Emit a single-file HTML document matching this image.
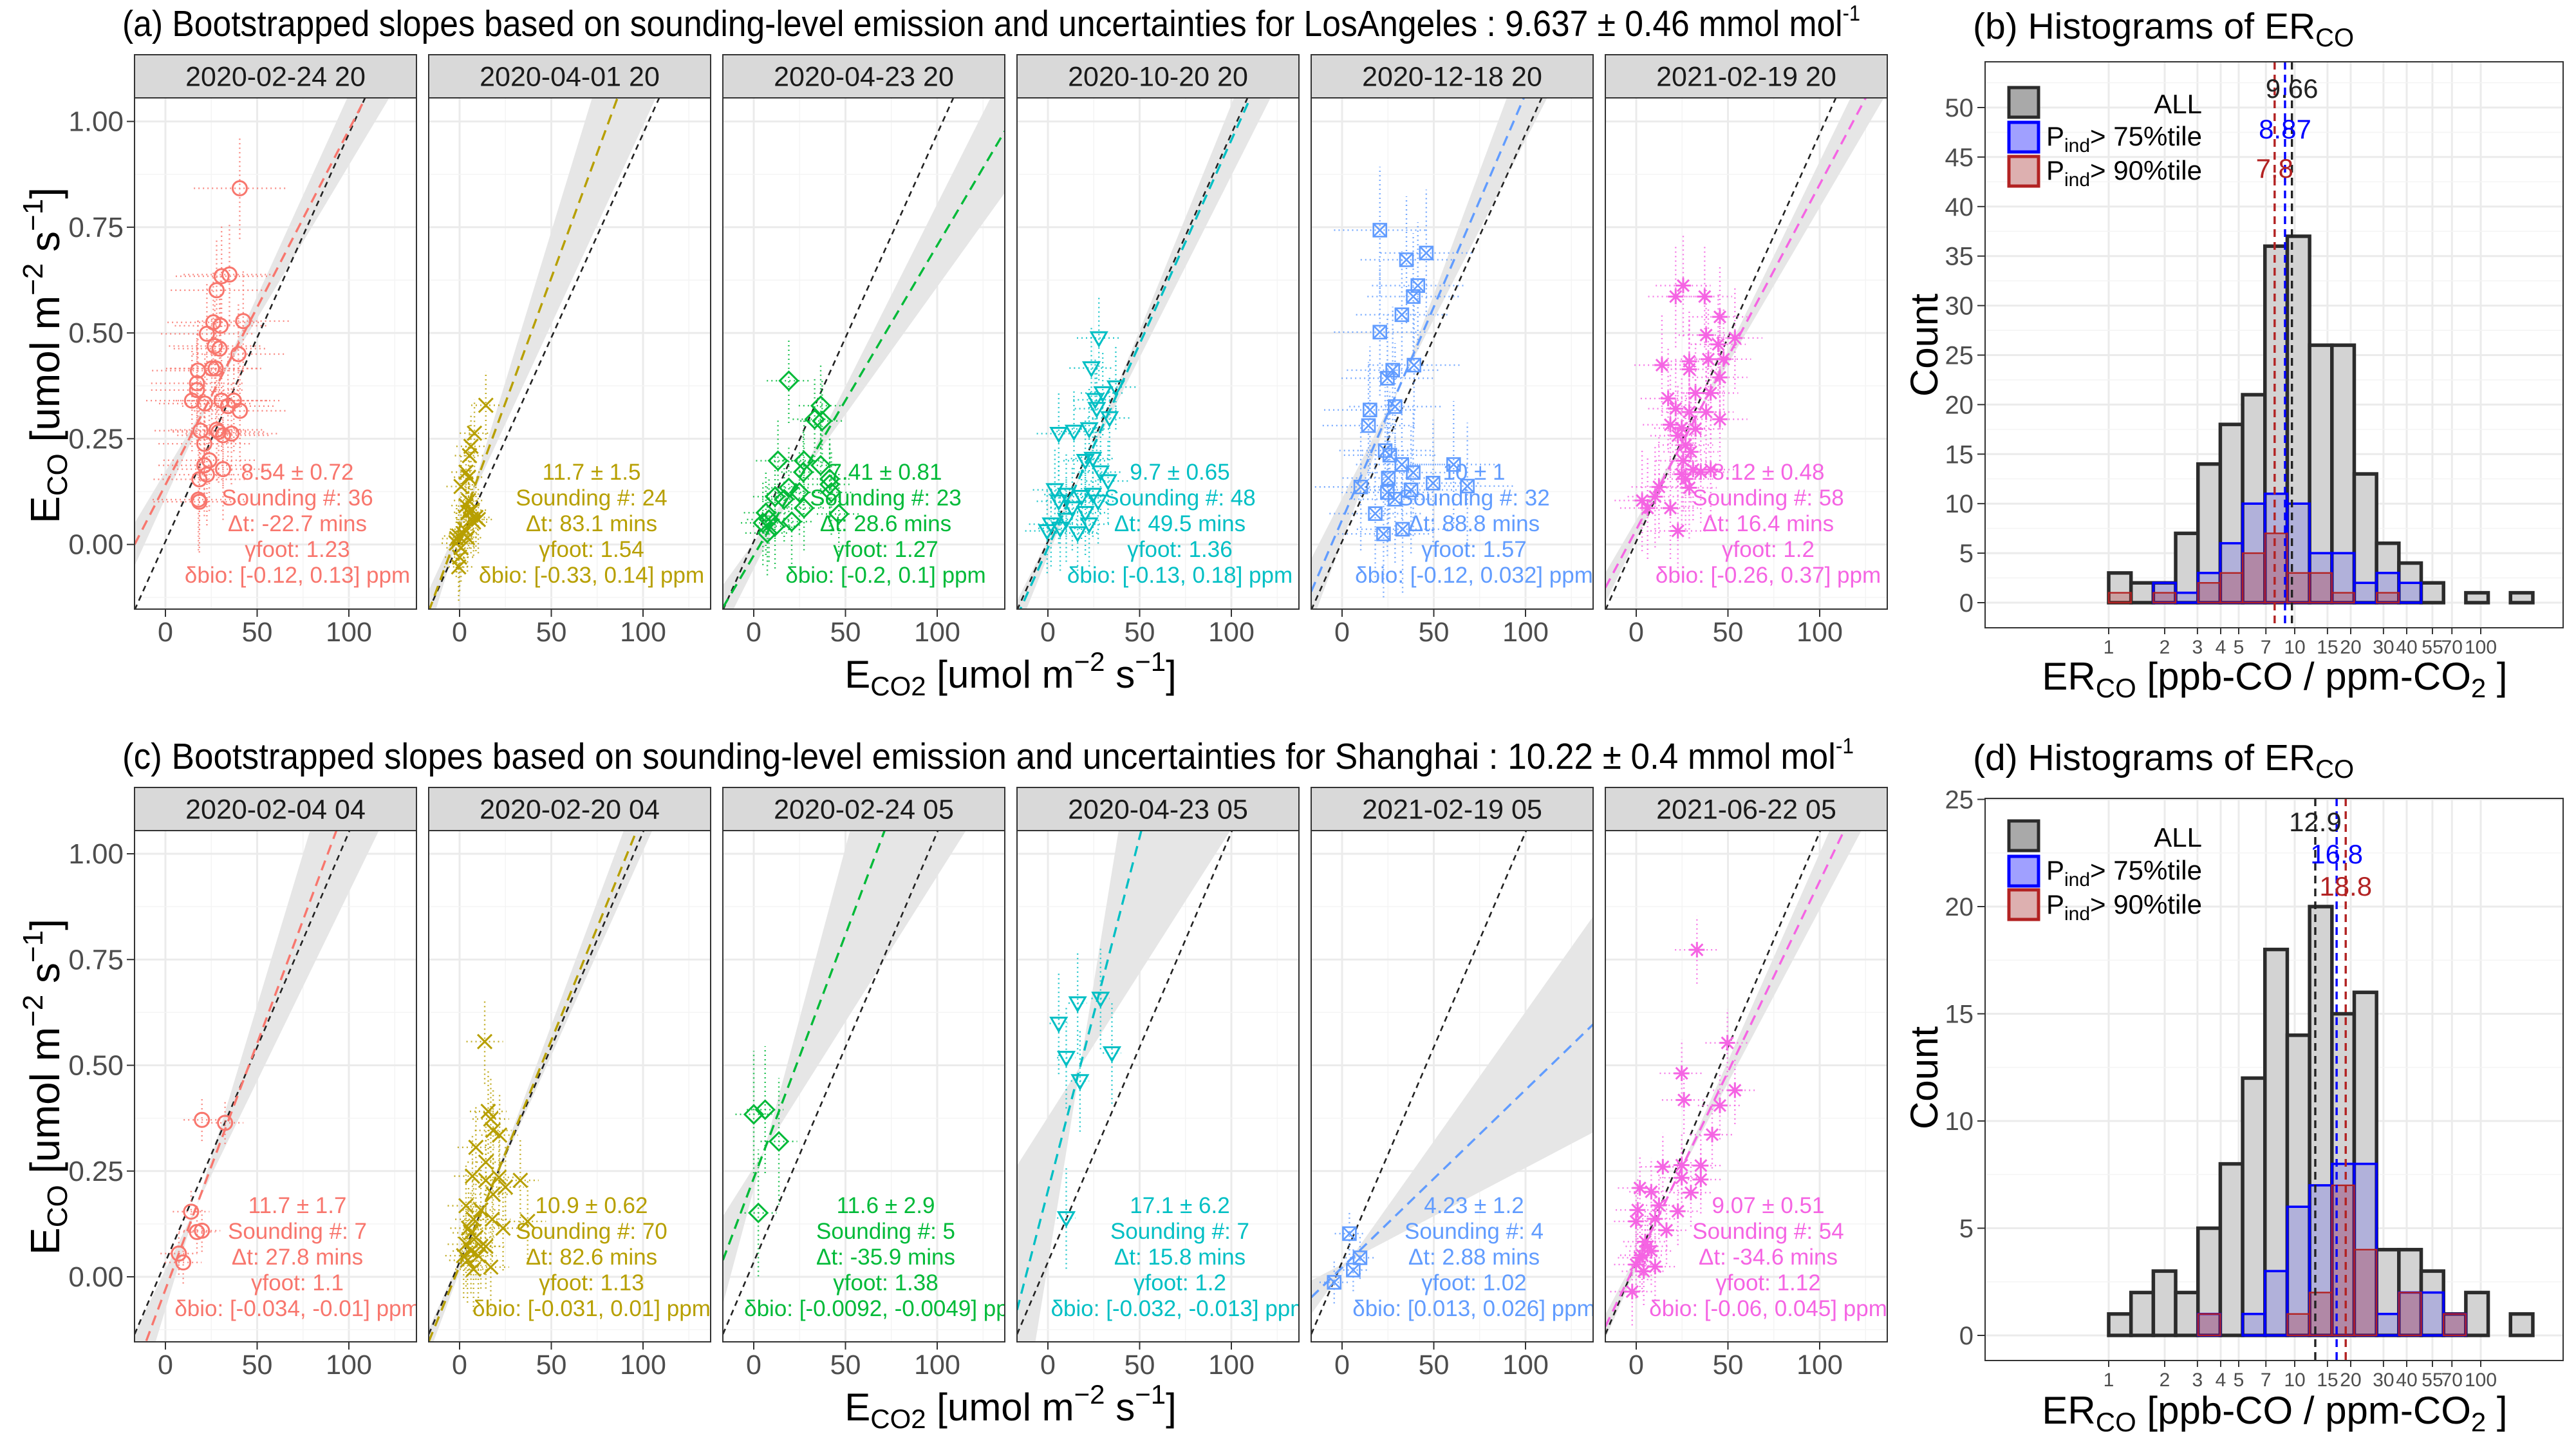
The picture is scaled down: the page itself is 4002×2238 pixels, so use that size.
<!DOCTYPE html>
<html><head><meta charset="utf-8"><title>Bootstrapped slopes</title>
<style>
html,body{margin:0;padding:0;background:#fff;overflow:hidden;width:4002px;height:2238px;}
svg{display:block;font-family:"Liberation Sans",Arial,sans-serif;}
</style></head>
<body>
<svg id="fig" width="4002" height="2238" viewBox="0 0 4002 2238" xmlns="http://www.w3.org/2000/svg">
<rect x="0" y="0" width="4002" height="2238" fill="#fff"/>
<text x="190" y="56" font-size="57" fill="#000" textLength="2700" lengthAdjust="spacingAndGlyphs">(a) Bootstrapped slopes based on sounding-level emission and uncertainties for LosAngeles : 9.637 ± 0.46 mmol mol<tspan font-size="34" dy="-24">-1</tspan></text>
<text x="190" y="1194" font-size="57" fill="#000" textLength="2690" lengthAdjust="spacingAndGlyphs">(c) Bootstrapped slopes based on sounding-level emission and uncertainties for Shanghai : 10.22 ± 0.4 mmol mol<tspan font-size="34" dy="-24">-1</tspan></text>
<text x="3065" y="60" font-size="57" fill="#000">(b) Histograms of ER<tspan font-size="40" dy="12">CO</tspan></text>
<text x="3065" y="1196" font-size="57" fill="#000">(d) Histograms of ER<tspan font-size="40" dy="12">CO</tspan></text>
<g id="layer"></g>
</svg>
<script>
// ---------------- scatter data ----------------
const overallSlopeTop = 0.009637;
const overallInterceptTop = 0.007;
const overallSlopeBot = 0.01016;
const overallInterceptBot = 0.035;

const topDates = ["2020-02-24 20","2020-04-01 20","2020-04-23 20","2020-10-20 20","2020-12-18 20","2021-02-19 20"];
const botDates = ["2020-02-04 04","2020-02-20 04","2020-02-24 05","2020-04-23 05","2021-02-19 05","2021-06-22 05"];

const topSlope = [0.00839, 0.0118, 0.00733, 0.00964, 0.01007, 0.00816];
const topIntercept = [0.141, 0.04, -0.026, -0.008, 0.058, 0.035];
const topUnc = [0.72, 1.5, 0.81, 0.65, 1.0, 0.48];
const botSlope = [0.01164, 0.01066, 0.01152, 0.01673, 0.0042, 0.00901];
const botIntercept = [-0.03, 0.026, 0.233, 0.203, 0.022, 0.034];
const botUnc = [1.7, 0.62, 2.9, 6.2, 1.2, 0.51];

const topXErr = [25, 8, 12, 12, 25, 15];
const topYErr = [0.12, 0.08, 0.1, 0.1, 0.15, 0.12];
const botXErr = [10, 10, 10, 5, 8, 12];
const botYErr = [0.05, 0.1, 0.15, 0.12, 0.05, 0.08];

const topX = [
 [40.5,34.9,30.6,27.9,26.1,30.1,42.4,22.6,26.9,29.5,39.8,17.7,25.3,27.4,17.2,17.2,14.5,21.5,30.6,37.3,34.1,40.6,19.1,27.9,29.0,31.4,36.0,21.2,23.9,21.2,22.6,18.5,31.4,18.0,18.5],
 [14.3,8.1,6.2,5.4,3.5,4.9,0.8,4.9,7.0,8.9,6.2,2.2,-0.5,4.3,-1.8,0.8,0.0,-0.5,7.6,2.7,4.9,-1.6,10.2,3.5],
 [19.1,33.2,36.5,37.3,13.2,27.4,36.5,41.4,42.3,19.1,11.6,24.9,6.6,8.3,5.0,11.6,20.7,27.4,46.4,7.4,27.0,41.4,16.6],
 [27.8,23.7,37.0,29.9,25.8,26.6,33.6,5.9,14.2,22.5,20.4,24.5,28.7,32.8,3.8,10.0,18.3,24.5,5.9,13.3,20.4,1.7,6.7,16.2,22.5,-0.4,10.0,27.4],
 [20.6,45.9,35.1,41.3,38.8,32.6,20.6,39.2,27.6,24.7,28.9,15.2,14.4,23.5,26.0,32.6,60.8,38.8,25.2,49.6,68.3,10.2,24.7,37.6,28.9,18.1,33.0,22.6],
 [25.6,21.5,37.3,45.6,38.1,53.8,44.7,14.0,28.9,39.3,47.6,45.6,28.9,32.3,40.6,17.4,21.5,28.9,38.1,45.6,18.6,24.8,32.3,22.7,26.9,29.8,25.6,31.0,24.8,35.2,12.4,10.3,3.2,6.2,18.6,22.7,28.9,26.9,40.6]
];
const topY = [
 [0.842,0.638,0.634,0.601,0.525,0.517,0.528,0.498,0.469,0.463,0.450,0.411,0.416,0.416,0.381,0.365,0.340,0.333,0.340,0.340,0.327,0.316,0.269,0.271,0.266,0.258,0.262,0.238,0.199,0.187,0.165,0.154,0.178,0.106,0.101],
 [0.329,0.263,0.232,0.210,0.171,0.159,0.137,0.104,0.081,0.064,0.059,0.025,0.020,0.016,0.003,-0.008,-0.030,-0.053,0.053,0.036,0.076,0.014,0.059,0.092],
 [0.387,0.296,0.328,0.292,0.198,0.198,0.187,0.142,0.123,0.134,0.113,0.123,0.075,0.059,0.051,0.043,0.054,0.086,0.072,0.027,0.171,0.155,0.107],
 [0.488,0.417,0.372,0.358,0.342,0.321,0.299,0.262,0.267,0.273,0.198,0.203,0.171,0.150,0.129,0.118,0.113,0.118,0.102,0.086,0.075,0.048,0.038,0.027,0.048,0.032,0.059,0.102],
 [0.743,0.689,0.673,0.612,0.586,0.543,0.502,0.424,0.412,0.393,0.326,0.318,0.281,0.222,0.211,0.189,0.189,0.170,0.157,0.145,0.138,0.136,0.123,0.129,0.107,0.073,0.036,0.025],
 [0.612,0.586,0.586,0.538,0.495,0.488,0.473,0.424,0.433,0.438,0.438,0.395,0.414,0.358,0.358,0.345,0.321,0.313,0.313,0.296,0.283,0.275,0.273,0.257,0.235,0.219,0.198,0.177,0.166,0.171,0.136,0.113,0.104,0.086,0.086,0.032,0.134,0.155,0.177]
];
const botX = [
 [19.9,32.5,14.0,17.2,19.9,7.3,9.7],
 [13.7,15.6,17.0,8.9,14.3,21.8,18.3,7.0,14.3,21.5,25.0,33.1,18.3,37.1,23.7,17.8,7.6,4.9,8.9,3.5,6.2,11.6,4.3,7.6,17.0,2.2,10.2,14.3,6.2,11.6,3.5],
 [0.0,6.2,13.7,2.5],
 [5.9,16.2,28.7,10.0,34.9,17.5,10.0],
 [4.0,9.8,6.1,-4.3],
 [33.1,49.7,24.8,26.0,53.8,45.6,41.4,14.5,24.8,35.2,24.8,35.2,29.8,2.0,8.2,0.8,12.4,22.7,-0.1,10.3,16.5,4.9,8.2,2.0,-0.1,10.3,4.1,-2.2,6.2,3.2]
];
const botY = [
 [0.371,0.364,0.154,0.106,0.109,0.055,0.034],
 [0.556,0.391,0.373,0.306,0.271,0.335,0.346,0.238,0.228,0.235,0.212,0.228,0.195,0.131,0.115,0.136,0.136,0.115,0.093,0.077,0.061,0.072,0.039,0.018,0.023,0.050,0.050,0.072,0.104,0.158,0.168],
 [0.384,0.395,0.320,0.151],
 [0.599,0.647,0.658,0.518,0.529,0.463,0.139],
 [0.102,0.045,0.016,-0.013],
 [0.773,0.553,0.481,0.418,0.441,0.405,0.336,0.260,0.264,0.263,0.234,0.230,0.199,0.210,0.201,0.158,0.169,0.155,0.131,0.137,0.110,0.083,0.061,0.045,0.029,0.024,0.013,-0.035,0.072,0.051]
];

const topNotes = [
 ["8.54 ± 0.72","Sounding #: 36","Δt: -22.7 mins","γfoot: 1.23","δbio: [-0.12, 0.13] ppm"],
 ["11.7 ± 1.5","Sounding #: 24","Δt: 83.1 mins","γfoot: 1.54","δbio: [-0.33, 0.14] ppm"],
 ["7.41 ± 0.81","Sounding #: 23","Δt: 28.6 mins","γfoot: 1.27","δbio: [-0.2, 0.1] ppm"],
 ["9.7 ± 0.65","Sounding #: 48","Δt: 49.5 mins","γfoot: 1.36","δbio: [-0.13, 0.18] ppm"],
 ["10 ± 1","Sounding #: 32","Δt: 88.8 mins","γfoot: 1.57","δbio: [-0.12, 0.032] ppm"],
 ["8.12 ± 0.48","Sounding #: 58","Δt: 16.4 mins","γfoot: 1.2","δbio: [-0.26, 0.37] ppm"]
];
const botNotes = [
 ["11.7 ± 1.7","Sounding #: 7","Δt: 27.8 mins","γfoot: 1.1","δbio: [-0.034, -0.01] ppm"],
 ["10.9 ± 0.62","Sounding #: 70","Δt: 82.6 mins","γfoot: 1.13","δbio: [-0.031, 0.01] ppm"],
 ["11.6 ± 2.9","Sounding #: 5","Δt: -35.9 mins","γfoot: 1.38","δbio: [-0.0092, -0.0049] ppm"],
 ["17.1 ± 6.2","Sounding #: 7","Δt: 15.8 mins","γfoot: 1.2","δbio: [-0.032, -0.013] ppm"],
 ["4.23 ± 1.2","Sounding #: 4","Δt: 2.88 mins","γfoot: 1.02","δbio: [0.013, 0.026] ppm"],
 ["9.07 ± 0.51","Sounding #: 54","Δt: -34.6 mins","γfoot: 1.12","δbio: [-0.06, 0.045] ppm"]
];
const xTicks = [0, 50, 100];
const yTicks = [0, 0.25, 0.5, 0.75, 1.0];
const yTickLabels = ["0.00","0.25","0.50","0.75","1.00"];

// ---------------- histogram data ----------------
const histBinStart = -0.48;
const histBinWidth = 0.12;
const histBAll = [0,0,0,0,3,2,2,7,14,18,21,36,37,26,26,13,6,4,2,0,1,0,1];
const histBP75 = [0,0,0,0,0,0,2,1,3,6,10,11,10,5,5,2,3,2,0,0,0,0,0];
const histBP90 = [0,0,0,0,1,0,1,0,2,3,5,7,3,3,1,0,1,0,0,0,0,0,0];
const histDAll = [0,0,0,0,1,2,3,2,5,8,12,18,14,20,15,16,4,4,3,1,2,0,1];
const histDP75 = [0,0,0,0,0,0,0,0,1,0,1,3,6,7,8,8,1,2,2,1,0,0,0];
const histDP90 = [0,0,0,0,0,0,0,0,1,0,0,0,1,2,7,4,0,2,0,1,0,0,0];
const histBMedians = [9.66, 8.87, 7.8];
const histDMedians = [12.9, 16.8, 18.8];
const histXTicks = [1,2,3,4,5,7,10,15,20,30,40,55,70,100];
const histXTickLabels = ["1","2","3","4","5","7","10","15","20","30","40","55","70","100"];
const histBYTicks = [0,5,10,15,20,25,30,35,40,45,50];
const histDYTicks = [0,5,10,15,20,25];

// ---------------- rendering ----------------
const NS = "http://www.w3.org/2000/svg";
const layer = document.getElementById("layer");
const svgRoot = document.getElementById("fig");
const defs = document.createElementNS(NS, "defs");
svgRoot.insertBefore(defs, svgRoot.firstChild);
const colors = ["#F8766D","#B79F00","#00BA38","#00BFC4","#619CFF","#F564E3"];
const shapes = ["circle","cross","diamond","tri","sqx","star"];

function mk(tag, attrs, parent) {
  const e = document.createElementNS(NS, tag);
  for (const k in attrs) e.setAttribute(k, attrs[k]);
  (parent || layer).appendChild(e);
  return e;
}

const rows = [
  {stripTop: 85, top: 152, bottom: 946, y0: 845.6, dates: topDates, slope: topSlope, icpt: topIntercept, unc: topUnc,
   X: topX, Y: topY, xe: topXErr, ye: topYErr, notes: topNotes, noteY: 733, oS: overallSlopeTop, oI: overallInterceptTop, name: "top"},
  {stripTop: 1223, top: 1290, bottom: 2084, y0: 1983, dates: botDates, slope: botSlope, icpt: botIntercept, unc: botUnc,
   X: botX, Y: botY, xe: botXErr, ye: botYErr, notes: botNotes, noteY: 1872, oS: overallSlopeBot, oI: overallInterceptBot, name: "bottom"}
];
const PXU = 2.85, PYU = 657, PW = 438;
const XMIN = -16.8, XMAX = 136.8;

function drawMarker(g, shape, cx, cy, col) {
  const s = 11;
  let m;
  if (shape === "circle") {
    m = mk("circle", {cx: cx, cy: cy, r: s, fill: "none", stroke: col, "stroke-width": 3}, g);
  } else if (shape === "cross") {
    m = mk("path", {d: `M${cx-s} ${cy-s}L${cx+s} ${cy+s}M${cx-s} ${cy+s}L${cx+s} ${cy-s}`, stroke: col, "stroke-width": 3, fill: "none"}, g);
  } else if (shape === "diamond") {
    m = mk("path", {d: `M${cx} ${cy-14}L${cx+14} ${cy}L${cx} ${cy+14}L${cx-14} ${cy}Z`, stroke: col, "stroke-width": 3, fill: "none"}, g);
  } else if (shape === "tri") {
    m = mk("path", {d: `M${cx-12} ${cy-9}L${cx+12} ${cy-9}L${cx} ${cy+12}Z`, stroke: col, "stroke-width": 3, fill: "none"}, g);
  } else if (shape === "sqx") {
    m = mk("path", {d: `M${cx-10} ${cy-10}h20v20h-20ZM${cx-10} ${cy-10}L${cx+10} ${cy+10}M${cx-10} ${cy+10}L${cx+10} ${cy-10}`, stroke: col, "stroke-width": 2.6, fill: "none"}, g);
  } else {
    m = mk("path", {d: `M${cx-12} ${cy}h24M${cx} ${cy-12}v24M${cx-9} ${cy-9}L${cx+9} ${cy+9}M${cx-9} ${cy+9}L${cx+9} ${cy-9}`, stroke: col, "stroke-width": 3, fill: "none"}, g);
  }
  return m;
}

rows.forEach((row, ri) => {
  for (let k = 0; k < 6; k++) {
    const left = 209 + 457 * k;
    const x0 = 257 + 457 * k;
    const sx = v => x0 + v * PXU;
    const sy = v => row.y0 - v * PYU;
    const col = colors[k];
    const pg = mk("g", {});
    
    
    const cid = `clip-${ri}-${k}`;
    const cp = mk("clipPath", {id: cid}, defs);
    mk("rect", {x: left, y: row.top, width: PW, height: row.bottom - row.top}, cp);

    const strip = mk("rect", {x: left, y: row.stripTop, width: PW, height: row.top - row.stripTop, fill: "#D9D9D9", stroke: "#333", "stroke-width": 2}, pg);
    
    
    const st = mk("text", {x: left + PW/2, y: (row.stripTop + row.top)/2 + 15, "font-size": 43, "text-anchor": "middle", fill: "#1A1A1A"}, pg);
    st.textContent = row.dates[k];
    
    

    const inner = mk("g", {"clip-path": `url(#${cid})`}, pg);
    for (let v = -25; v <= 150; v += 25) {
      const major = v % 50 === 0;
      mk("line", {x1: sx(v), x2: sx(v), y1: row.top, y2: row.bottom, stroke: major ? "#EBEBEB" : "#F4F4F4", "stroke-width": major ? 3 : 1.5}, inner);
    }
    for (let v = -0.25; v <= 1.25; v += 0.125) {
      const major = Math.abs(v / 0.25 - Math.round(v / 0.25)) < 1e-6;
      mk("line", {x1: left, x2: left + PW, y1: sy(v), y2: sy(v), stroke: major ? "#EBEBEB" : "#F4F4F4", "stroke-width": major ? 3 : 1.5}, inner);
    }
    // bootstrap fan, pivot on fit line at mean x
    const X = row.X[k], Y = row.Y[k];
    let mx = 0;
    X.forEach(v => mx += v);
    mx /= X.length;
    const my = row.icpt[k] + row.slope[k] * mx;
    const sp = 1.6 * row.unc[k] / 1000;
    const s1 = row.slope[k] - sp, s2 = row.slope[k] + sp;
    const f = (s, x) => my + s * (x - mx);
    const fan = mk("path", {d: `M${sx(XMIN)} ${sy(f(s1,XMIN))}L${sx(XMAX)} ${sy(f(s1,XMAX))}L${sx(XMAX)} ${sy(f(s2,XMAX))}L${sx(XMIN)} ${sy(f(s2,XMIN))}Z`, fill: "#E6E6E6", "fill-rule": "nonzero"}, inner);
    
    
    const ol = mk("line", {x1: sx(XMIN), y1: sy(row.oI + row.oS*XMIN), x2: sx(XMAX), y2: sy(row.oI + row.oS*XMAX), stroke: "#222", "stroke-width": 2.6, "stroke-dasharray": "9 7"}, inner);
    
    
    const fl = mk("line", {x1: sx(XMIN), y1: sy(row.icpt[k] + row.slope[k]*XMIN), x2: sx(XMAX), y2: sy(row.icpt[k] + row.slope[k]*XMAX), stroke: col, "stroke-width": 3.4, "stroke-dasharray": "16 10"}, inner);
    
    
    const xe = row.xe[k], ye = row.ye[k];
    for (let i = 0; i < X.length; i++) {
      const eb = mk("path", {d: `M${sx(X[i]-xe)} ${sy(Y[i])}H${sx(X[i]+xe)}M${sx(X[i])} ${sy(Y[i]-ye)}V${sy(Y[i]+ye)}`, stroke: col, "stroke-width": 2.4, "stroke-dasharray": "2 5", fill: "none", opacity: 0.85}, inner);
      
      
    }
    for (let i = 0; i < X.length; i++) {
      const m = drawMarker(inner, shapes[k], sx(X[i]), sy(Y[i]), col);
      
      
    }
    row.notes[k].forEach((t, j) => {
      const tx = mk("text", {x: left + 253, y: row.noteY + j * 40 + 12, "font-size": 35, "text-anchor": "middle", fill: col}, inner);
      tx.textContent = t;
      
      
    });
    const bd = mk("rect", {x: left, y: row.top, width: PW, height: row.bottom - row.top, fill: "none", stroke: "#333", "stroke-width": 2}, pg);
    
    
    xTicks.forEach(v => {
      mk("line", {x1: sx(v), x2: sx(v), y1: row.bottom, y2: row.bottom + 12, stroke: "#333", "stroke-width": 2}, pg);
      const tl = mk("text", {x: sx(v), y: row.bottom + 50, "font-size": 43, "text-anchor": "middle", fill: "#4D4D4D"}, pg);
      tl.textContent = String(v);
      
      
    });
    if (k === 0) {
      yTicks.forEach((v, j) => {
        mk("line", {x1: left - 12, x2: left, y1: sy(v), y2: sy(v), stroke: "#333", "stroke-width": 2}, pg);
        const tl = mk("text", {x: left - 17, y: sy(v) + 15, "font-size": 44, "text-anchor": "end", fill: "#4D4D4D"}, pg);
        tl.textContent = yTickLabels[j];
        
        
      });
    }
  }
  const yc = ri === 0 ? 552 : 1688;
  const yt = mk("text", {x: 0, y: 0, "font-size": 64, "text-anchor": "middle", fill: "#000", transform: `translate(92 ${yc}) rotate(-90)`});
  yt.innerHTML = 'E<tspan font-size="44" dy="12">CO</tspan><tspan dy="-12">  [umol m</tspan><tspan font-size="44" dy="-26">−2</tspan><tspan dy="26"> s</tspan><tspan font-size="44" dy="-26">−1</tspan><tspan dy="26">]</tspan>';
  
  
  const xb = ri === 0 ? 1068 : 2206;
  const xt = mk("text", {x: 1570, y: xb, "font-size": 60, "text-anchor": "middle", fill: "#000"});
  xt.innerHTML = 'E<tspan font-size="42" dy="12">CO2</tspan><tspan dy="-12">  [umol m</tspan><tspan font-size="42" dy="-26">−2</tspan><tspan dy="26"> s</tspan><tspan font-size="42" dy="-26">−1</tspan><tspan dy="26">]</tspan>';
  
  
});

// ---------------- histograms ----------------
const hists = [
  {top: 96, bottom: 975, y0: 936, ppc: 15.38, all: histBAll, p75: histBP75, p90: histBP90, med: histBMedians, yTicks: histBYTicks,
   legY: [136, 190, 243], labY: [161, 211, 264], medY: [137, 200, 261], xTitle: 1071, yTitle: 536, name: "b"},
  {top: 1240, bottom: 2113, y0: 2074, ppc: 33.3, all: histDAll, p75: histDP75, p90: histDP90, med: histDMedians, yTicks: histDYTicks,
   legY: [1275, 1330, 1382], labY: [1300, 1351, 1404], medY: [1276, 1326, 1376], xTitle: 2211, yTitle: 1674, name: "d"}
];
const HL = 3084, HR = 3982, HX1 = 3276, HDEC = 289;
const hx = lv => HX1 + lv * HDEC;

hists.forEach(h => {
  const g = mk("g", {});
  
  
  const hy = c => h.y0 - c * h.ppc;
  histXTicks.forEach(v => {
    mk("line", {x1: hx(Math.log10(v)), x2: hx(Math.log10(v)), y1: h.top, y2: h.bottom, stroke: "#EBEBEB", "stroke-width": 3}, g);
  });
  const step = h.yTicks[1] - h.yTicks[0];
  for (let c = -step/2; c <= h.yTicks[h.yTicks.length-1] + step; c += step/2) {
    const yy = hy(c);
    if (yy < h.top || yy > h.bottom) continue;
    const major = Math.abs(c / step - Math.round(c / step)) < 1e-6;
    mk("line", {x1: HL, x2: HR, y1: yy, y2: yy, stroke: major ? "#EBEBEB" : "#F4F4F4", "stroke-width": major ? 3 : 1.5}, g);
  }
  const series = [
    {d: h.all, fill: "#D3D3D3", stroke: "#2B2B2B", sw: 5.5, nm: "bar-all"},
    {d: h.p75, fill: "rgba(0,0,255,0.16)", stroke: "#0000FF", sw: 3.6, nm: "bar-p75"},
    {d: h.p90, fill: "rgba(178,34,34,0.28)", stroke: "#B22222", sw: 2.4, nm: "bar-p90"}
  ];
  series.forEach(s => {
    s.d.forEach((c, i) => {
      const l0 = histBinStart + i * histBinWidth;
      const r = mk("rect", {x: hx(l0), y: hy(c), width: histBinWidth * HDEC, height: c * h.ppc, fill: s.fill, stroke: s.stroke, "stroke-width": s.sw}, g);
      
      
    });
  });
  const mcol = ["#222", "#0000FF", "#B22222"];
  [2, 1, 0].forEach(j => {
    const v = h.med[j];
    const ml = mk("line", {x1: hx(Math.log10(v)), x2: hx(Math.log10(v)), y1: h.top, y2: h.bottom, stroke: mcol[j], "stroke-width": 3.4, "stroke-dasharray": "12 8"}, g);
    
    
  });
  [0, 1, 2].forEach(j => {
    const v = h.med[j];
    const t = mk("text", {x: hx(Math.log10(v)), y: h.medY[j] + 15, "font-size": 42, "text-anchor": "middle", fill: mcol[j]}, g);
    t.textContent = String(v);
    
    
  });
  mk("rect", {x: HL, y: h.top, width: HR - HL, height: h.bottom - h.top, fill: "none", stroke: "#333", "stroke-width": 2}, g);
  histXTicks.forEach((v, i) => {
    mk("line", {x1: hx(Math.log10(v)), x2: hx(Math.log10(v)), y1: h.bottom, y2: h.bottom + 10, stroke: "#333", "stroke-width": 2}, g);
    const t = mk("text", {x: hx(Math.log10(v)), y: h.bottom + 40, "font-size": 30, "text-anchor": "middle", fill: "#4D4D4D"}, g);
    t.textContent = histXTickLabels[i];
    
    
  });
  h.yTicks.forEach(c => {
    mk("line", {x1: HL - 12, x2: HL, y1: hy(c), y2: hy(c), stroke: "#333", "stroke-width": 2}, g);
    const t = mk("text", {x: HL - 18, y: hy(c) + 14, "font-size": 40, "text-anchor": "end", fill: "#4D4D4D"}, g);
    t.textContent = String(c);
    
    
  });
  const lf = ["#A9A9A9", "#A0A0FF", "#DDB0B0"], ls = ["#2B2B2B", "#0000FF", "#B22222"];
  const labs = ['ALL', 'P<tspan font-size="30" dy="10">ind</tspan><tspan dy="-10">&gt; 75%tile</tspan>', 'P<tspan font-size="30" dy="10">ind</tspan><tspan dy="-10">&gt; 90%tile</tspan>'];
  [0, 1, 2].forEach(j => {
    const key = mk("rect", {x: 3121, y: h.legY[j], width: 46, height: 46, fill: lf[j], stroke: ls[j], "stroke-width": 5}, g);
    
    
    const lt = mk("text", {x: 3421, y: h.labY[j] + 15, "font-size": 42, "text-anchor": "end", fill: "#000"}, g);
    lt.innerHTML = labs[j];
    
    
  });
  const xt = mk("text", {x: 3534, y: h.xTitle, "font-size": 60, "text-anchor": "middle", fill: "#000"}, g);
  xt.innerHTML = 'ER<tspan font-size="42" dy="12">CO</tspan><tspan dy="-12"> [ppb-CO / ppm-CO</tspan><tspan font-size="42" dy="12">2</tspan><tspan dy="-12"> ]</tspan>';
  
  
  const yt = mk("text", {x: 0, y: 0, "font-size": 60, "text-anchor": "middle", fill: "#000", transform: `translate(3010 ${h.yTitle}) rotate(-90)`}, g);
  yt.textContent = "Count";
  
  
});
</script>
</body></html>
